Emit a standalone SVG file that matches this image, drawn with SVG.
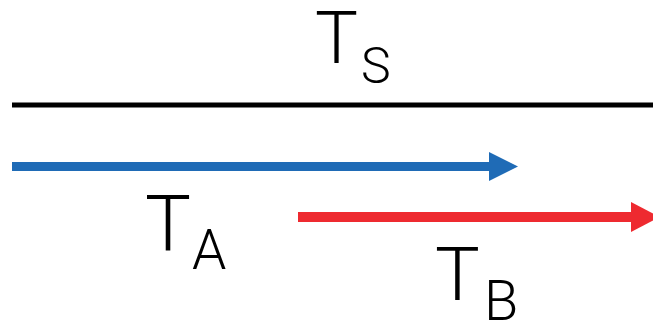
<svg xmlns="http://www.w3.org/2000/svg" width="653" height="323" viewBox="0 0 653 323">
  <defs>
    <style>
      .lbl { font-family: Roboto, "Liberation Sans", sans-serif; font-weight: 300; fill: #000; }
      .conn { fill: none; stroke-linecap: butt; }
    </style>
    <marker id="headBlue" markerUnits="userSpaceOnUse" markerWidth="30" markerHeight="30" refX="1" refY="14.5" orient="auto" viewBox="0 0 30 30">
      <path d="M0,0 L29,14.5 L0,29 Z" fill="#1F6BB6"/>
    </marker>
    <marker id="headRed" markerUnits="userSpaceOnUse" markerWidth="30" markerHeight="31" refX="1" refY="15" orient="auto" viewBox="0 0 30 31">
      <path d="M0,0 L29,15 L0,30 Z" fill="#EE2A30"/>
    </marker>
  </defs>
  <rect width="653" height="323" fill="#ffffff"/>
  <g id="connectors">
    <line id="line-s" class="conn" x1="12" y1="105" x2="660" y2="105" stroke="#000" stroke-width="5"/>
    <line id="arrow-a" class="conn" x1="12" y1="166.5" x2="490" y2="166.5" stroke="#1F6BB6" stroke-width="9" marker-end="url(#headBlue)"/>
    <line id="arrow-b" class="conn" x1="298" y1="217" x2="632" y2="217" stroke="#EE2A30" stroke-width="10" marker-end="url(#headRed)"/>
  </g>
  <g id="label-ts">
    <text class="lbl" x="315" y="63" font-size="72">T</text>
    <text class="lbl" x="361" y="83" font-size="50">S</text>
  </g>
  <g id="label-ta">
    <text class="lbl" x="145" y="250" font-size="77">T</text>
    <text class="lbl" x="192" y="269" font-size="55">A</text>
  </g>
  <g id="label-tb">
    <text class="lbl" x="435" y="300" font-size="75">T</text>
    <text class="lbl" x="484" y="320" font-size="56">B</text>
  </g>
</svg>
